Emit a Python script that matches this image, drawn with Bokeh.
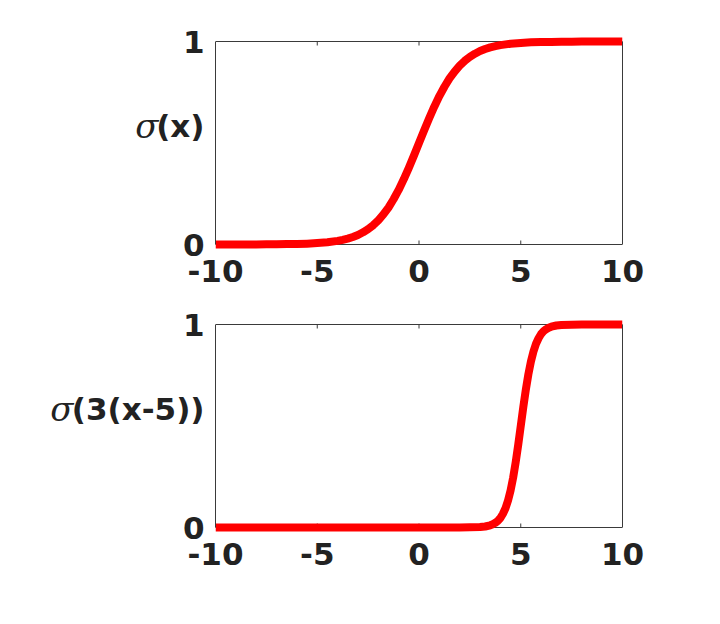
from bokeh.plotting import figure
from bokeh.models import Range1d, LinearAxis, FixedTicker
from bokeh.layouts import column
from bokeh.embed import file_html
from bokeh.resources import INLINE

# ---- data ----
x_top = [-10, -9, -8, -7.5, -7, -6.5, -6, -5.5, -5, -4.5, -4, -3.75, -3.5, -3.25, -3,
         -2.75, -2.5, -2.25, -2, -1.75, -1.5, -1.25, -1, -0.75, -0.5, -0.25, 0,
         0.25, 0.5, 0.75, 1, 1.25, 1.5, 1.75, 2, 2.25, 2.5, 2.75, 3, 3.25, 3.5,
         3.75, 4, 4.5, 5, 5.5, 6, 6.5, 7, 7.5, 8, 9, 10]
y_top = [0.000, 0.000, 0.000, 0.001, 0.001, 0.002, 0.002, 0.004, 0.007, 0.011, 0.018,
         0.023, 0.029, 0.037, 0.047, 0.060, 0.076, 0.095, 0.119, 0.148, 0.182, 0.223,
         0.269, 0.321, 0.378, 0.438, 0.500, 0.562, 0.622, 0.679, 0.731, 0.777, 0.818,
         0.852, 0.881, 0.905, 0.924, 0.940, 0.953, 0.963, 0.971, 0.977, 0.982, 0.989,
         0.993, 0.996, 0.998, 0.998, 0.999, 0.999, 1.000, 1.000, 1.000]

x_bot = [-10, -5, 0, 2, 2.5, 3, 3.25, 3.5, 3.625, 3.75, 3.875, 4, 4.125, 4.25, 4.375,
         4.5, 4.625, 4.75, 4.875, 5, 5.125, 5.25, 5.375, 5.5, 5.625, 5.75, 5.875, 6,
         6.125, 6.25, 6.375, 6.5, 6.75, 7, 7.5, 8, 10]
y_bot = [0.000, 0.000, 0.000, 0.000, 0.001, 0.002, 0.005, 0.011, 0.016, 0.023, 0.033,
         0.047, 0.068, 0.095, 0.133, 0.182, 0.245, 0.321, 0.407, 0.500, 0.593, 0.679,
         0.755, 0.818, 0.867, 0.905, 0.932, 0.953, 0.967, 0.977, 0.984, 0.989, 0.995,
         0.998, 0.999, 1.000, 1.000]

x_ticks = [-10, -5, 0, 5, 10]
x_tick_labels = {-10: "-10", -5: "-5", 0: "0", 5: "5", 10: "10"}
x_inner_ticks = [-5, 0, 5]
y_ticks = [0, 1]
y_label_pos = 0.585
label_top = "(x)"
label_bot = "(3(x-5))"
sigma = "σ"

TXT = "#222222"
EDGE = "#3a3a3a"
TICK_FONT = "31px"
SIGMA_FONT = "34px"

BOX_H = 203          # pixel height of the axes box
PAD = 5              # pixels of room above/below so the thick line is not clipped
TICK_LEN = 4         # pixels


def make(xs, ys, rest, border_top, border_bottom):
    pad = PAD / BOX_H
    p = figure(frame_width=407, frame_height=BOX_H + 2 * PAD,
               x_range=Range1d(x_ticks[0], x_ticks[-1]),
               y_range=Range1d(y_ticks[0] - pad, y_ticks[-1] + pad),
               x_axis_type=None, y_axis_type=None,
               output_backend="svg", toolbar_location=None,
               min_border_left=215, min_border_right=90,
               min_border_top=border_top, min_border_bottom=border_bottom,
               background_fill_color="white", border_fill_color="white")
    p.outline_line_color = None

    # x tick labels
    bottom = LinearAxis(ticker=FixedTicker(ticks=x_ticks),
                        major_label_overrides=x_tick_labels,
                        major_tick_in=0, major_tick_out=0,
                        major_tick_line_color=None, minor_tick_line_color=None,
                        axis_line_color=None,
                        major_label_text_font="DejaVu Sans",
                        major_label_text_font_style="bold",
                        major_label_text_font_size=TICK_FONT,
                        major_label_text_color=TXT,
                        major_label_standoff=10)
    p.add_layout(bottom, "below")

    # left edge, y tick labels and the bold part of the y label
    left_ticks = [y_ticks[0], y_label_pos, y_ticks[-1]]
    left = LinearAxis(ticker=FixedTicker(ticks=left_ticks),
                      major_label_overrides={y_ticks[0]: "0", y_label_pos: rest,
                                             y_ticks[-1]: "1"},
                      bounds=(y_ticks[0], y_ticks[-1]),
                      major_tick_in=0, major_tick_out=0,
                      major_tick_line_color=None, minor_tick_line_color=None,
                      axis_line_color=EDGE, axis_line_width=1,
                      major_label_text_font="DejaVu Sans",
                      major_label_text_font_style="bold",
                      major_label_text_font_size=TICK_FONT,
                      major_label_text_color=TXT,
                      major_label_standoff=11)
    p.add_layout(left, "left")

    # the sigma of the y label
    left_sigma = LinearAxis(ticker=FixedTicker(ticks=[y_label_pos]),
                            major_label_overrides={y_label_pos: sigma},
                            major_tick_in=0, major_tick_out=0,
                            major_tick_line_color=None, minor_tick_line_color=None,
                            axis_line_color=None,
                            major_label_text_font="DejaVu Serif",
                            major_label_text_font_style="italic",
                            major_label_text_font_size=SIGMA_FONT,
                            major_label_text_color=TXT,
                            major_label_standoff=-5)
    p.add_layout(left_sigma, "left")

    right = LinearAxis(ticker=FixedTicker(ticks=[]),
                       bounds=(y_ticks[0], y_ticks[-1]),
                       major_tick_in=0, major_tick_out=0,
                       major_tick_line_color=None, minor_tick_line_color=None,
                       axis_line_color=EDGE, axis_line_width=1,
                       major_label_text_font_size="1px",
                       major_label_text_color=None, major_label_standoff=0)
    p.add_layout(right, "right")

    # top and bottom edges of the box, with inward ticks
    p.hspan(y=y_ticks, line_color=EDGE, line_width=1)
    tl = TICK_LEN / BOX_H
    n = len(x_inner_ticks)
    p.segment(x0=x_inner_ticks, y0=[y_ticks[0]] * n,
              x1=x_inner_ticks, y1=[y_ticks[0] + tl] * n,
              line_color=EDGE, line_width=1)
    p.segment(x0=x_inner_ticks, y0=[y_ticks[-1]] * n,
              x1=x_inner_ticks, y1=[y_ticks[-1] - tl] * n,
              line_color=EDGE, line_width=1)

    p.line(xs, ys, line_color="#ff0000", line_width=8,
           line_cap="butt", line_join="round")
    return p


p1 = make(x_top, y_top, label_top, 36, 50)
p2 = make(x_bot, y_bot, label_bot, 20, 60)

layout = column(p1, p2, spacing=0)
open("out.html", "w").write(file_html(layout, INLINE))
